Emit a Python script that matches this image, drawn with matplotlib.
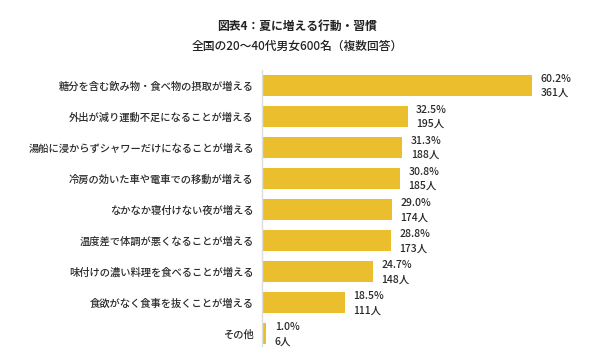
import matplotlib.pyplot as plt

plt.rcParams['font.family'] = ['Noto Sans CJK JP', 'DejaVu Sans']

labels = ['糖分を含む飲み物・食べ物の摂取が増える',
          '外出が減り運動不足になることが増える',
          '湯船に浸からずシャワーだけになることが増える',
          '冷房の効いた車や電車での移動が増える',
          'なかなか寝付けない夜が増える',
          '温度差で体調が悪くなることが増える',
          '味付けの濃い料理を食べることが増える',
          '食欲がなく食事を抜くことが増える',
          'その他']
pct = [60.2, 32.5, 31.3, 30.8, 29.0, 28.8, 24.7, 18.5, 1.0]
people = [361, 195, 188, 185, 174, 173, 148, 111, 6]

W, H = 600, 358
fig = plt.figure(figsize=(6, 3.58), dpi=100)
ax = fig.add_axes([262/W, 1 - 346/H, 330/W, 276/H])

y = list(range(len(labels)))
ax.barh(y, pct, height=0.68, color='#EBBE2E')
ax.set_ylim(8.4, -0.5)
ax.set_xlim(0, 330/4.485)

for i, (p, n) in enumerate(zip(pct, people)):
    ax.annotate(f'{p:.1f}%', (p, i), xytext=(6, 5), textcoords='offset points',
                ha='left', va='center', fontsize=7.5, color='#2a2a2a', fontweight='medium')
    ax.annotate(f'{n}人', (p, i), xytext=(6, -5.5), textcoords='offset points',
                ha='left', va='center', fontsize=7.5, color='#2a2a2a', fontweight='medium')

ax.set_yticks(y)
ax.set_yticklabels(labels, fontsize=7.4, color='#2a2a2a', fontweight='medium')
ax.tick_params(axis='y', length=0, pad=6)
ax.set_xticks([])
for s in ['top', 'right', 'bottom']:
    ax.spines[s].set_visible(False)
ax.spines['left'].set_color('#dddddd')
ax.spines['left'].set_linewidth(1)

fig.text(297/W, 1 - 26/H, '図表4：夏に増える行動・習慣', ha='center', va='center',
         fontsize=8.5, fontweight='bold', color='#222222')
fig.text(297/W, 1 - 46/H, '全国の20～40代男女600名（複数回答）', ha='center', va='center',
         fontsize=8.5, color='#222222', fontweight='medium')

fig.savefig('out.png', dpi=100)
